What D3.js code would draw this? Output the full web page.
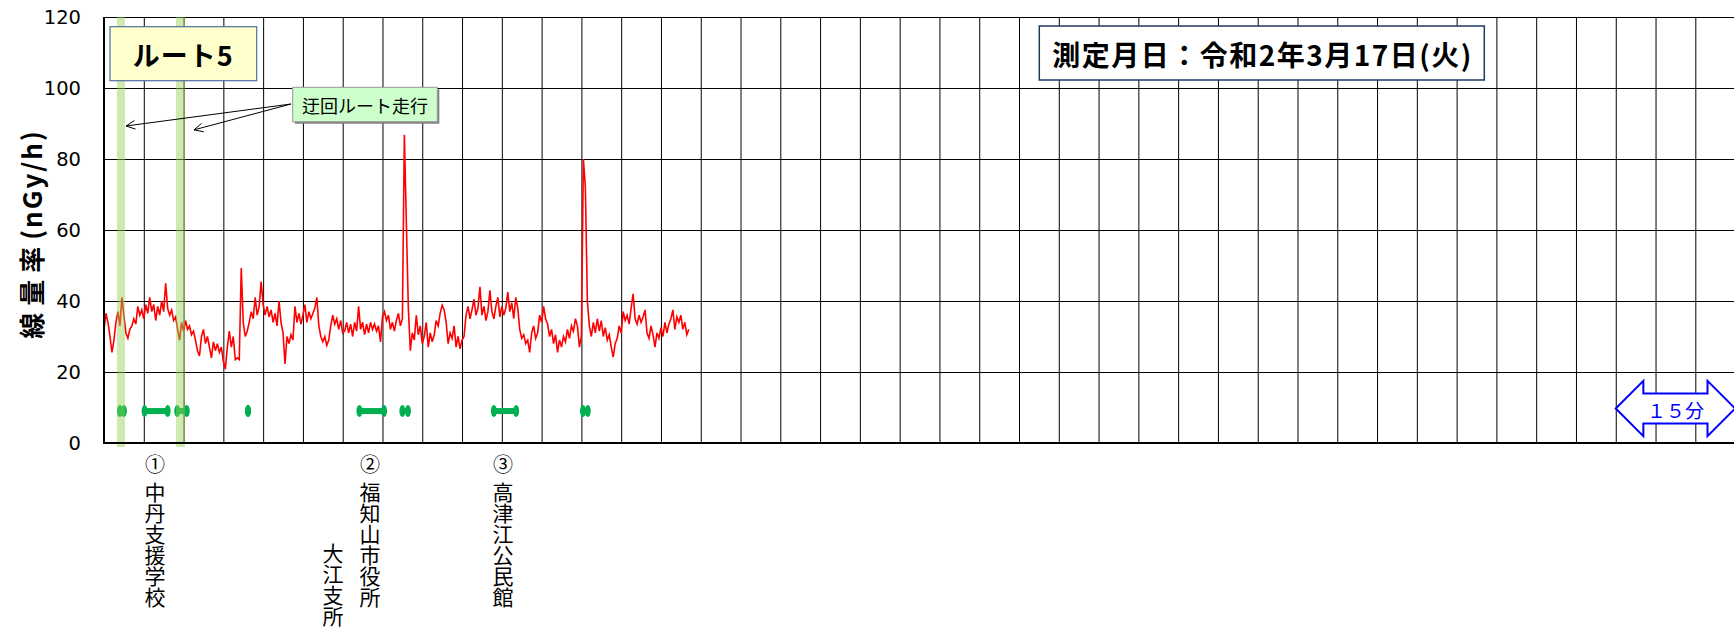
<!DOCTYPE html>
<html><head><meta charset="utf-8">
<script src="https://cdn.jsdelivr.net/npm/d3@7"></script>
<style>
body{margin:0;background:#fff}
svg{display:block}
.vt{writing-mode:vertical-rl;text-orientation:upright}
</style>
</head><body>
<svg id="chart" width="1734" height="630"></svg>
<script>
// ---------------- data ----------------
const yTicks = [0, 20, 40, 60, 80, 100, 120];
const totalMinutes = 205;          // x axis length (min)
const gridStepMin = 5;             // one grid column = 5 min
const startMin = 0;                // first sample time (min)
const stepMin = 0.25;              // sample interval (min)
const doseRate = [
32,36.5,34,30,25.5,29,34,37,33,41,36,31,29.5,32,33,35,33.5,38.5,36,37.5,
35,39,36.5,41,37,39,34.5,38.5,36,40,37,45,38,36,37.5,34.5,35.5,32,29,34,
31.5,34.5,32,33,30.5,31.5,29,26,24.5,30,32,28,30,27,24,28.5,26,28,25.5,27,
23,20.8,27,31.5,27,30,23.5,24,23.5,49.3,34,30,31.5,34,37,35,41,36,38.5,45.5,
39,36,38.5,35.5,37.5,34,36.5,33,40,34,31,22.3,30,28,30.5,29,38.5,34,36.5,33.5,
36,39,34,37,35,36.5,38,41,33,30,28.5,30,27.5,29,33,36,33.5,35,32,34.5,
31,31.5,34,31,33.5,30,34,31.5,38.5,32,34,30.5,33.5,31,34,32,33.5,31.5,33,28.5,
35.5,37,34.5,36,32,34,31.5,34.5,36.5,33,35,86.8,62,38,26,31,29,36,30.5,33,
28,30,34,27,31,28.5,30.5,34.5,33,36.5,38.8,37.5,34,28,31,29.5,33,27,30,26.5,
29,30,36,38.5,35,37.5,40.5,36,38,44,36,38.5,34.5,37,43,37,35,38.5,41,35.5,
38.5,36,38,42.5,37,39.5,35,41,38,32,29.5,30.5,28,29,25.5,31,33,29.5,31,36,
34,38.5,35,33.5,30,32,28,30.5,25.5,29,27,30,28.5,32,29.5,33,31.5,35,33,27,
30,80,72,40,33,30,34,31,35,31.5,34.5,30,32.5,29,30.5,27,24.2,28,29.5,33,
31,37,34.5,36,33.5,38,42,35,33.5,36,34,35.5,37.5,31,29.5,33,30.5,27,31,29.5,
32.5,30,34,31,33.5,35,37.5,32,35.5,34,36,32,34,30.5,32
];
// detour sections (green bands), minutes
const bandStartMin = [1.63, 9.05];
const bandEndMin   = [2.64, 10.18];
// survey-point markers (green), minutes
const markerStartMin = [2.0, 5.1, 9.2, 18.1, 32.1, 37.5, 49.0, 60.2];
const markerEndMin   = [2.5, 8.0, 10.4, 18.1, 35.2, 38.2, 51.8, 60.8];
const markerLevel = 9;
// place labels under the axis
const siteNumbers = ["①", "②", "③"];
const siteNumberMin = [6.41, 33.43, 50.15];
const siteNames = ["中丹支援学校", "福知山市役所", "大江支所", "高津江公民館"];
const siteNameMin = [6.41, 33.43, 28.78, 50.15];
const siteNameLowered = [false, false, true, false];
// texts
const yTitleParts = ["線量率", "(nGy/h)"];
const routeLabel = "ルート5";
const dateLabel = "測定月日：令和2年3月17日(火)";
const detourLabel = "迂回ルート走行";
const detourArrowTipMin = [2.77, 11.31];
const detourArrowTipVal = [89.3, 88.2];
const scaleLabel = "１５分";
const scaleSpanMin = [190, 205];

// ---------------- layout ----------------
const L = 104, R = 1735.1, T = 17, B = 443;
const svg = d3.select("#chart");
svg.append("rect").attr("width",1734).attr("height",630).attr("fill","#fff");

const x = d3.scaleLinear().domain([0, totalMinutes]).range([L, R]);
const y = d3.scaleLinear().domain([0, 120]).range([B, T]);

// vertical grid
const gx = svg.append("g").attr("transform",`translate(0,${B})`)
  .call(d3.axisBottom(x).tickValues(d3.range(gridStepMin, totalMinutes + 0.01, gridStepMin))
        .tickSize(-(B - T)).tickFormat(""));
gx.select(".domain").remove();
gx.selectAll("line").attr("stroke","#000").attr("stroke-width",1);

// horizontal grid + labels
const gy = svg.append("g").attr("transform",`translate(${L},0)`)
  .call(d3.axisLeft(y).tickValues(yTicks).tickSize(-(R - L)).tickPadding(23));
gy.select(".domain").remove();
gy.selectAll("line").attr("stroke","#000").attr("stroke-width",1);
gy.selectAll("text").attr("font-family","'DejaVu Sans', Verdana, sans-serif")
  .attr("font-size",19.5).attr("fill","#000");

// data line
const line = d3.line().x((d,i)=>x(startMin + i*stepMin)).y(d=>y(d));
svg.append("path").datum(doseRate).attr("d",line)
  .attr("fill","none").attr("stroke","#ff0000").attr("stroke-width",1.6)
  .attr("stroke-linejoin","miter");

// markers
const mk = svg.append("g").attr("fill","#00b050");
markerStartMin.forEach((s,i)=>{
  const e = markerEndMin[i], yy = y(markerLevel);
  mk.append("rect").attr("x",x(s)).attr("y",yy-3).attr("width",Math.max(0,x(e)-x(s))).attr("height",6);
  mk.append("ellipse").attr("cx",x(s)).attr("cy",yy).attr("rx",3).attr("ry",6);
  mk.append("ellipse").attr("cx",x(e)).attr("cy",yy).attr("rx",3).attr("ry",6);
});

// detour bands
bandStartMin.forEach((s,i)=>{
  svg.append("rect").attr("x",x(s)).attr("y",T).attr("width",x(bandEndMin[i])-x(s))
    .attr("height",B - T + 4).attr("fill","#92D050").attr("fill-opacity",0.45);
});

// axes lines
svg.append("line").attr("x1",L).attr("x2",L).attr("y1",T).attr("y2",B+1)
  .attr("stroke","#000").attr("stroke-width",2);
svg.append("line").attr("x1",L-1).attr("x2",1734).attr("y1",B).attr("y2",B)
  .attr("stroke","#000").attr("stroke-width",2);

// y title
const yt = svg.append("text").attr("transform",`translate(30,${(T+B)/2+4}) rotate(-90)`)
  .attr("text-anchor","middle").attr("dominant-baseline","central")
  .attr("font-family","'Noto Sans CJK JP', sans-serif").attr("font-weight","bold")
  .attr("font-size",26);
yt.append("tspan").attr("letter-spacing","7px").text(yTitleParts[0]);
yt.append("tspan").attr("letter-spacing","2px").text(yTitleParts[1]);

// route box
svg.append("rect").attr("x",110).attr("y",26.7).attr("width",146.7).attr("height",54)
  .attr("fill","#ffffcc").attr("stroke","#4f6fa0").attr("stroke-width",1.2);
svg.append("text").attr("x",183.3).attr("y",54.5).attr("text-anchor","middle")
  .attr("dominant-baseline","central").attr("font-family","'Noto Sans CJK JP', sans-serif")
  .attr("font-weight","bold").attr("font-size",27).attr("letter-spacing","1px").text(routeLabel);

// detour callout
const ox = 291, oy = 104;
detourArrowTipMin.forEach((t,i)=>{
  const tx = x(t), ty = y(detourArrowTipVal[i]);
  const ang = Math.atan2(ty-oy, tx-ox);
  const hl = 10, ha = 0.45;
  svg.append("line").attr("x1",ox).attr("y1",oy).attr("x2",tx).attr("y2",ty)
    .attr("stroke","#000").attr("stroke-width",1);
  const p = d3.path();
  p.moveTo(tx - hl*Math.cos(ang-ha), ty - hl*Math.sin(ang-ha));
  p.lineTo(tx, ty);
  p.lineTo(tx - hl*Math.cos(ang+ha), ty - hl*Math.sin(ang+ha));
  svg.append("path").attr("d",p.toString()).attr("fill","none").attr("stroke","#000").attr("stroke-width",1);
});
svg.append("rect").attr("x",294.7).attr("y",89.3).attr("width",144.6).attr("height",34.4).attr("fill","#7f7f7f");
svg.append("rect").attr("x",292.7).attr("y",87.3).attr("width",144.6).attr("height",34.4)
  .attr("fill","#ccffcc").attr("stroke","#9a9a9a").attr("stroke-width",1);
svg.append("text").attr("x",365).attr("y",104.5).attr("text-anchor","middle")
  .attr("dominant-baseline","central").attr("font-family","'Noto Sans CJK JP', sans-serif")
  .attr("font-size",18).text(detourLabel);

// date box
svg.append("rect").attr("x",1039.3).attr("y",26).attr("width",445).attr("height",54)
  .attr("fill","#fff").attr("stroke","#1f3864").attr("stroke-width",1.5);
svg.append("text").attr("x",1262.5).attr("y",53.5).attr("text-anchor","middle")
  .attr("dominant-baseline","central").attr("font-family","'Noto Sans CJK JP', sans-serif")
  .attr("font-weight","bold").attr("font-size",28).attr("letter-spacing","1.5px").text(dateLabel);

// 15 min double arrow
const ax0 = x(scaleSpanMin[0]), ax1 = x(scaleSpanMin[1]);
const ayc = 408.5, head = 27.6, hh = 27.7, sh = 15;
const arr = [[ax0,ayc],[ax0+head,ayc-hh],[ax0+head,ayc-sh],[ax1-head,ayc-sh],[ax1-head,ayc-hh],[ax1,ayc],
  [ax1-head,ayc+hh],[ax1-head,ayc+sh],[ax0+head,ayc+sh],[ax0+head,ayc+hh]];
svg.append("polygon").attr("points",arr.map(p=>p.join(",")).join(" "))
  .attr("fill","#fff").attr("stroke","#0000ff").attr("stroke-width",2);
svg.append("text").attr("x",(ax0+ax1)/2).attr("y",ayc+1).attr("text-anchor","middle")
  .attr("dominant-baseline","central").attr("font-family","'Noto Sans CJK JP', sans-serif")
  .attr("font-size",19).attr("fill","#0000ff").text(scaleLabel);

// labels under axis
const lab = svg.append("g").attr("font-family","'Noto Sans CJK JP', sans-serif").attr("fill","#000");
siteNumbers.forEach((s,i)=>{
  lab.append("text").attr("x",x(siteNumberMin[i])).attr("y",463).attr("text-anchor","middle")
    .attr("dominant-baseline","central").attr("font-size",20).text(s);
});
siteNames.forEach((s,i)=>{
  lab.append("text").attr("class","vt").attr("x",x(siteNameMin[i]))
    .attr("y",siteNameLowered[i] ? 543 : 482).attr("font-size",21).text(s);
});
</script>
</body></html>
